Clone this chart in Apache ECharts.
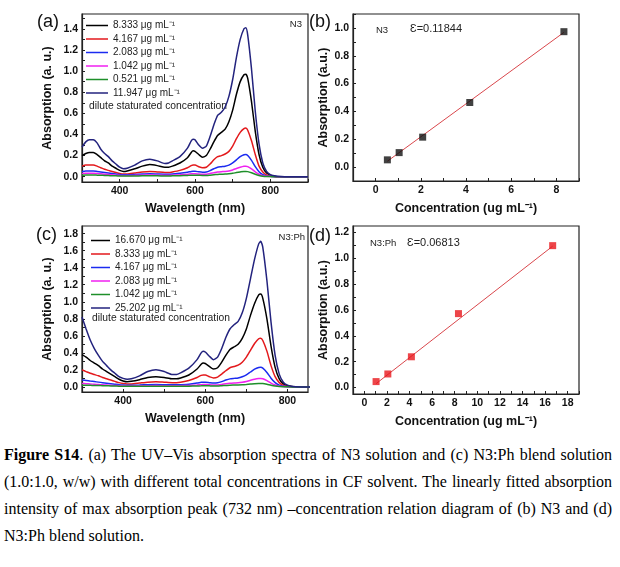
<!DOCTYPE html>
<html>
<head>
<meta charset="utf-8">
<script src="https://cdn.jsdelivr.net/npm/echarts@6.0.0/dist/echarts.min.js"></script>
<style>
  html, body { margin: 0; padding: 0; background: #fff; }
  #top { position: absolute; left: 0; top: 0; width: 620px; height: 220px; }
  #bottom { position: absolute; left: 0; top: 220px; width: 620px; height: 220px; }
  #caption {
    position: absolute; left: 4px; top: 441px; width: 608px;
    font-family: 'Liberation Serif', 'Times New Roman', serif; font-size: 16px;
    line-height: 27px; text-align: justify; color: #000;
  }
</style>
</head>
<body>
<div id="top"></div>
<div id="bottom"></div>
<div id="caption"><b>Figure S14</b>. (a) The UV–Vis absorption spectra of N3 solution and (c) N3:Ph blend solution (1.0:1.0, w/w) with different total concentrations in CF solvent. The linearly fitted absorption intensity of max absorption peak (732 nm) –concentration relation diagram of (b) N3 and (d) N3:Ph blend solution.</div>
<script>
// wavelength grid (nm) shared by both spectra panels
const wl = [
  300, 310, 320, 330, 340, 350, 360, 370, 380, 390,
  400, 410, 420, 440, 460, 480, 500, 520, 530, 540,
  560, 580, 590, 595, 600, 610, 620, 630, 640, 650,
  660, 670, 680, 690, 700, 710, 720, 730, 735, 740,
  750, 760, 770, 780, 790, 800, 810, 820, 850, 900
];

// (a) N3 spectra
const n3Names = ['8.333 μg mL⁻¹', '4.167 μg mL⁻¹', '2.083 μg mL⁻¹', '1.042 μg mL⁻¹', '0.521 μg mL⁻¹', '11.947 μg mL⁻¹'];
const n3_8333 = [
  0.20, 0.22, 0.23, 0.23, 0.21, 0.18, 0.15, 0.13, 0.10, 0.08,
  0.06, 0.05, 0.055, 0.075, 0.10, 0.115, 0.105, 0.09, 0.09, 0.10,
  0.13, 0.18, 0.23, 0.245, 0.24, 0.21, 0.185, 0.20, 0.26, 0.33,
  0.39, 0.42, 0.45, 0.52, 0.63, 0.78, 0.90, 0.965, 0.97, 0.93,
  0.71, 0.43, 0.21, 0.09, 0.035, 0.015, 0.005, 0, 0, 0
];
const n3_4167 = [
  0.10, 0.11, 0.11, 0.11, 0.10, 0.085, 0.07, 0.06, 0.05, 0.04,
  0.03, 0.025, 0.025, 0.035, 0.045, 0.05, 0.045, 0.04, 0.04, 0.045,
  0.06, 0.085, 0.105, 0.11, 0.11, 0.095, 0.085, 0.09, 0.12, 0.16,
  0.19, 0.20, 0.215, 0.24, 0.29, 0.36, 0.42, 0.455, 0.46, 0.44,
  0.34, 0.21, 0.10, 0.045, 0.018, 0.008, 0.003, 0, 0, 0
];
const n3_2083 = [
  0.05, 0.055, 0.055, 0.055, 0.05, 0.045, 0.04, 0.035, 0.03, 0.025,
  0.02, 0.018, 0.018, 0.02, 0.025, 0.028, 0.026, 0.024, 0.024, 0.026,
  0.032, 0.042, 0.05, 0.052, 0.052, 0.046, 0.042, 0.045, 0.058, 0.075,
  0.09, 0.095, 0.10, 0.11, 0.13, 0.16, 0.19, 0.208, 0.21, 0.20,
  0.155, 0.095, 0.048, 0.02, 0.008, 0.004, 0.002, 0, 0, 0
];
const n3_1042 = [
  0.03, 0.032, 0.032, 0.032, 0.03, 0.027, 0.024, 0.021, 0.018, 0.015,
  0.013, 0.012, 0.012, 0.013, 0.015, 0.016, 0.015, 0.014, 0.014, 0.015,
  0.018, 0.023, 0.027, 0.028, 0.028, 0.025, 0.023, 0.024, 0.03, 0.038,
  0.045, 0.048, 0.05, 0.055, 0.064, 0.078, 0.09, 0.099, 0.10, 0.096,
  0.075, 0.046, 0.023, 0.01, 0.004, 0.002, 0.001, 0, 0, 0
];
const n3_0521 = [
  0.015, 0.016, 0.016, 0.016, 0.015, 0.014, 0.012, 0.011, 0.009, 0.008,
  0.007, 0.006, 0.006, 0.007, 0.008, 0.008, 0.008, 0.007, 0.007, 0.008,
  0.009, 0.012, 0.014, 0.014, 0.014, 0.013, 0.012, 0.012, 0.015, 0.019,
  0.022, 0.024, 0.025, 0.028, 0.032, 0.039, 0.045, 0.05, 0.05, 0.048,
  0.037, 0.023, 0.012, 0.005, 0.002, 0.001, 0, 0, 0, 0
];
const n3_11947 = [
  0.28, 0.33, 0.35, 0.35, 0.32, 0.26, 0.22, 0.19, 0.15, 0.12,
  0.09, 0.075, 0.08, 0.11, 0.15, 0.165, 0.15, 0.125, 0.13, 0.15,
  0.19, 0.27, 0.34, 0.355, 0.35, 0.30, 0.27, 0.29, 0.38, 0.49,
  0.58, 0.61, 0.66, 0.76, 0.92, 1.13, 1.30, 1.40, 1.41, 1.34,
  1.02, 0.62, 0.31, 0.13, 0.05, 0.02, 0.01, 0.005, 0, 0
];

// (c) N3:Ph spectra
const phNames = ['16.670 μg mL⁻¹', '8.333 μg mL⁻¹', '4.167 μg mL⁻¹', '2.083 μg mL⁻¹', '1.042 μg mL⁻¹', '25.202 μg mL⁻¹'];
const ph_16670 = [
  0.38, 0.35, 0.31, 0.28, 0.25, 0.21, 0.18, 0.15, 0.12, 0.09,
  0.07, 0.06, 0.065, 0.085, 0.11, 0.12, 0.11, 0.095, 0.095, 0.105,
  0.14, 0.21, 0.265, 0.28, 0.275, 0.24, 0.21, 0.225, 0.29, 0.37,
  0.44, 0.47, 0.50, 0.57, 0.68, 0.84, 0.98, 1.08, 1.09, 1.04,
  0.80, 0.48, 0.23, 0.095, 0.035, 0.013, 0.005, 0.002, 0, 0
];
const ph_8333 = [
  0.20, 0.18, 0.16, 0.145, 0.13, 0.11, 0.095, 0.08, 0.065, 0.05,
  0.04, 0.035, 0.035, 0.045, 0.055, 0.06, 0.055, 0.05, 0.05, 0.055,
  0.075, 0.11, 0.135, 0.14, 0.14, 0.12, 0.105, 0.115, 0.15, 0.19,
  0.225, 0.24, 0.255, 0.29, 0.35, 0.43, 0.51, 0.565, 0.57, 0.545,
  0.42, 0.25, 0.12, 0.05, 0.018, 0.007, 0.003, 0, 0, 0
];
const ph_4167 = [
  0.08, 0.075, 0.068, 0.062, 0.056, 0.05, 0.044, 0.038, 0.032, 0.026,
  0.022, 0.02, 0.02, 0.022, 0.026, 0.028, 0.026, 0.024, 0.024, 0.026,
  0.032, 0.045, 0.054, 0.056, 0.056, 0.05, 0.045, 0.048, 0.062, 0.08,
  0.094, 0.10, 0.105, 0.12, 0.142, 0.175, 0.208, 0.228, 0.23, 0.22,
  0.17, 0.102, 0.05, 0.021, 0.008, 0.003, 0.001, 0, 0, 0
];
const ph_2083 = [
  0.04, 0.037, 0.034, 0.031, 0.028, 0.025, 0.022, 0.019, 0.016, 0.014,
  0.012, 0.011, 0.011, 0.012, 0.014, 0.015, 0.014, 0.013, 0.013, 0.014,
  0.017, 0.022, 0.026, 0.027, 0.027, 0.024, 0.022, 0.023, 0.029, 0.037,
  0.043, 0.046, 0.048, 0.054, 0.063, 0.077, 0.09, 0.099, 0.10, 0.096,
  0.074, 0.045, 0.022, 0.009, 0.004, 0.002, 0.001, 0, 0, 0
];
const ph_1042 = [
  0.02, 0.019, 0.018, 0.017, 0.016, 0.014, 0.013, 0.011, 0.01, 0.009,
  0.008, 0.007, 0.007, 0.007, 0.008, 0.008, 0.008, 0.007, 0.007, 0.008,
  0.009, 0.011, 0.012, 0.013, 0.013, 0.012, 0.011, 0.011, 0.014, 0.017,
  0.02, 0.021, 0.022, 0.024, 0.028, 0.033, 0.038, 0.04, 0.04, 0.039,
  0.03, 0.019, 0.01, 0.004, 0.002, 0.001, 0, 0, 0, 0
];
const ph_25202 = [
  0.82, 0.68, 0.55, 0.45, 0.37, 0.30, 0.25, 0.20, 0.16, 0.12,
  0.10, 0.09, 0.095, 0.13, 0.18, 0.20, 0.18, 0.145, 0.145, 0.165,
  0.22, 0.32, 0.40, 0.42, 0.41, 0.36, 0.32, 0.35, 0.45, 0.58,
  0.68, 0.73, 0.77, 0.87, 1.04, 1.27, 1.50, 1.68, 1.71, 1.64,
  1.25, 0.76, 0.37, 0.15, 0.055, 0.02, 0.008, 0.003, 0, 0
];

// (b) and (d) peak absorption vs concentration, with fitted line ends
const n3FitConc = [0.521, 1.042, 2.083, 4.167, 8.333];
const n3FitAbs = [0.052, 0.104, 0.215, 0.464, 0.973];
const n3LineX = [0.521, 8.333];
const n3LineY = [0.042, 0.968];
const phFitConc = [1.042, 2.083, 4.167, 8.333, 16.670];
const phFitAbs = [0.046, 0.105, 0.238, 0.572, 1.098];
const phLineX = [1.042, 16.670];
const phLineY = [0.03, 1.094];

// tick labels and tick positions
const aXLabels = [400, 600, 800];
const aXTicks = [300, 400, 500, 600, 700, 800, 900];
const aYLabels = [0, 0.2, 0.4, 0.6, 0.8, 1.0, 1.2, 1.4];
const aYTicks = [0, 0.1, 0.2, 0.3, 0.4, 0.5, 0.6, 0.7, 0.8, 0.9, 1.0, 1.1, 1.2, 1.3, 1.4, 1.5];
const bXLabels = [0, 2, 4, 6, 8];
const bXTicks = [-1, 0, 1, 2, 3, 4, 5, 6, 7, 8, 9];
const bYLabels = [0, 0.2, 0.4, 0.6, 0.8, 1.0];
const bYTicks = [-0.1, 0, 0.1, 0.2, 0.3, 0.4, 0.5, 0.6, 0.7, 0.8, 0.9, 1.0, 1.1];
const cXLabels = [400, 600, 800];
const cXTicks = [300, 400, 500, 600, 700, 800];
const cYLabels = [0, 0.2, 0.4, 0.6, 0.8, 1.0, 1.2, 1.4, 1.6, 1.8];
const cYTicks = [0, 0.1, 0.2, 0.3, 0.4, 0.5, 0.6, 0.7, 0.8, 0.9, 1.0, 1.1, 1.2, 1.3, 1.4, 1.5, 1.6, 1.7, 1.8];
const dXLabels = [0, 2, 4, 6, 8, 10, 12, 14, 16, 18];
const dXTicks = [0, 1, 2, 3, 4, 5, 6, 7, 8, 9, 10, 11, 12, 13, 14, 15, 16, 17, 18, 19];
const dYLabels = [0, 0.2, 0.4, 0.6, 0.8, 1.0, 1.2];
const dYTicks = [0, 0.1, 0.2, 0.3, 0.4, 0.5, 0.6, 0.7, 0.8, 0.9, 1.0, 1.1, 1.2];

const curveColors = ['#000000', '#e3191c', '#1b2bf0', '#f020f0', '#1e8f2a', '#23237e'];
const FONT = 'Liberation Sans, Arial, sans-serif';

const gridStyle = { show: true, borderColor: '#222', borderWidth: 1.2, backgroundColor: 'transparent' };

function valueAxis(gi, min, max, labels, ticks, name, gap, fmt) {
  return {
    type: 'value', gridIndex: gi, min: min, max: max,
    name: name, nameLocation: 'middle', nameGap: gap,
    nameTextStyle: { fontFamily: FONT, fontWeight: 'bold', fontSize: 12.5, color: '#111' },
    axisLine: { show: true, onZero: false, lineStyle: { color: '#222', width: 1.2 } },
    axisTick: { show: true, inside: true, length: 3, customValues: ticks, lineStyle: { color: '#222' } },
    axisLabel: { customValues: labels, margin: 4, fontFamily: FONT, fontWeight: 'bold', fontSize: 10.5, color: '#111', formatter: fmt },
    splitLine: { show: false }
  };
}
const oneDec = v => v.toFixed(1);
const plain = v => String(v);

function spectrumSeries(names, curves, xi) {
  return curves.map((vals, i) => ({
    name: names[i], type: 'line', xAxisIndex: xi, yAxisIndex: xi,
    data: wl.map((x, k) => [x, vals[k]]),
    symbol: 'none', smooth: 0.2,
    lineStyle: { color: curveColors[i], width: 1.5 },
    itemStyle: { color: curveColors[i] },
    z: i === 5 ? 3 : 2
  }));
}

function fitSeries(xi, lx, ly, px, py, dotColor) {
  return [
    {
      type: 'line', xAxisIndex: xi, yAxisIndex: xi,
      data: lx.map((x, k) => [x, ly[k]]), symbol: 'none',
      lineStyle: { color: '#d9474c', width: 1 }, z: 2
    },
    {
      type: 'scatter', xAxisIndex: xi, yAxisIndex: xi,
      data: px.map((x, k) => [x, py[k]]),
      symbol: 'rect', symbolSize: 7,
      itemStyle: { color: dotColor }, z: 3
    }
  ];
}

function legendOf(names, left, top, w) {
  return {
    orient: 'vertical', left: left, top: top, data: names, padding: 0,
    icon: 'rect', itemWidth: w, itemHeight: 1.5, itemGap: 2.5, selectedMode: false,
    textStyle: { fontFamily: FONT, fontSize: 10, lineHeight: 11, color: '#222' }
  };
}

function txt(x, y, text, size, opts) {
  return {
    type: 'text', x: x, y: y, silent: true,
    style: Object.assign({
      text: text, fontFamily: FONT, fontSize: size, fill: '#222',
      align: 'left', verticalAlign: 'middle'
    }, opts || {})
  };
}

// top row: (a) and (b)
const topChart = echarts.init(document.getElementById('top'), null, { renderer: 'canvas' });
topChart.setOption({
  animation: false,
  grid: [
    Object.assign({ left: 82, top: 14, width: 226, height: 168 }, gridStyle),
    Object.assign({ left: 353, top: 14, width: 226, height: 168 }, gridStyle)
  ],
  xAxis: [
    valueAxis(0, 300, 900, aXLabels, aXTicks, 'Wavelength (nm)', 20, plain),
    valueAxis(1, -1, 9, bXLabels, bXTicks, 'Concentration (ug mL⁻¹)', 21, plain)
  ],
  yAxis: [
    valueAxis(0, -0.05, 1.54, aYLabels, aYTicks, 'Absorption (a. u.)', 28, oneDec),
    valueAxis(1, -0.1, 1.1, bYLabels, bYTicks, 'Absorption (a.u.)', 23, oneDec)
  ],
  legend: legendOf(n3Names, 86, 20, 22),
  series: spectrumSeries(n3Names, [n3_8333, n3_4167, n3_2083, n3_1042, n3_0521, n3_11947], 0)
    .concat(fitSeries(1, n3LineX, n3LineY, n3FitConc, n3FitAbs, '#111')),
  graphic: [
    txt(37, 22, '(a)', 18, { fill: '#111' }),
    txt(309, 22, '(b)', 18, { fill: '#111' }),
    txt(89, 106, 'dilute staturated concentration', 10.3),
    txt(302, 24, 'N3', 9.5, { align: 'right' }),
    txt(382, 30, 'N3', 9.5, { align: 'center' }),
    txt(410, 29, 'Ɛ=0.11844', 11)
  ]
});

// bottom row: (c) and (d)
const bottomChart = echarts.init(document.getElementById('bottom'), null, { renderer: 'canvas' });
bottomChart.setOption({
  animation: false,
  grid: [
    Object.assign({ left: 82, top: 6, width: 226, height: 166 }, gridStyle),
    Object.assign({ left: 353, top: 6, width: 226, height: 168 }, gridStyle)
  ],
  xAxis: [
    valueAxis(0, 300, 850, cXLabels, cXTicks, 'Wavelength (nm)', 20, plain),
    valueAxis(1, -1, 19, dXLabels, dXTicks, 'Concentration (ug mL⁻¹)', 21, plain)
  ],
  yAxis: [
    valueAxis(0, -0.06, 1.89, cYLabels, cYTicks, 'Absorption (a. u.)', 28, oneDec),
    valueAxis(1, -0.05, 1.25, dYLabels, dYTicks, 'Absorption (a.u.)', 23, oneDec)
  ],
  legend: legendOf(phNames, 91, 15, 19),
  series: spectrumSeries(phNames, [ph_16670, ph_8333, ph_4167, ph_2083, ph_1042, ph_25202], 0)
    .concat(fitSeries(1, phLineX, phLineY, phFitConc, phFitAbs, '#e8161b')),
  graphic: [
    txt(36, 15, '(c)', 18, { fill: '#111' }),
    txt(309, 16, '(d)', 18, { fill: '#111' }),
    txt(92, 98, 'dilute staturated concentration', 10.3),
    txt(305, 17, 'N3:Ph', 9.5, { align: 'right' }),
    txt(370, 23, 'N3:Ph', 9.5),
    txt(407, 23, 'Ɛ=0.06813', 11)
  ]
});
</script>
</body>
</html>
